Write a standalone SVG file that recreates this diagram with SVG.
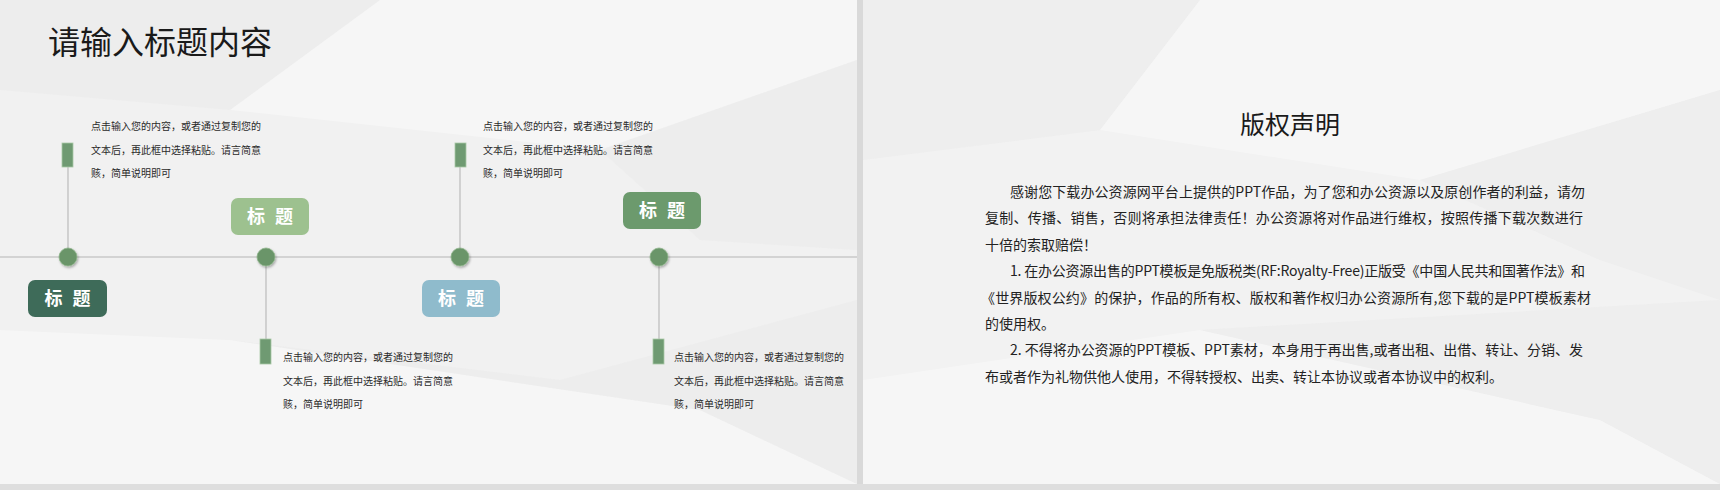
<svg xmlns="http://www.w3.org/2000/svg" width="1720" height="490" viewBox="0 0 1720 490">
<defs>
<style>
.cjk{font-family:"Noto Sans CJK SC","Noto Sans",sans-serif;}
.title{font-size:32px;fill:#1a1a1a;}
.small{font-size:10px;fill:#2a2a2a;}
.body{font-size:14px;fill:#222;}
.lbl{font-size:18px;font-weight:bold;fill:#fff;letter-spacing:3px;}
.conn{stroke:#c9c9c9;stroke-width:1.6;fill:none;}
.dot{fill:#6a9569;stroke:#8fb58c;stroke-width:0.8;filter:url(#sh);}
.mark{fill:#6f9a72;stroke:#a9c8a6;stroke-width:0.8;}
.poly{fill:#ffffff;opacity:0.35;}
.polyd{fill:#e6e6e6;opacity:0.3;}
</style>
<filter id="sh" x="-50%" y="-50%" width="200%" height="200%">
<feDropShadow dx="1" dy="1.5" stdDeviation="1.2" flood-color="#000" flood-opacity="0.3"/>
</filter>
</defs>

<!-- backgrounds -->
<rect x="0" y="0" width="1720" height="490" fill="#d6d6d6"/>
<rect x="0" y="0" width="857" height="484" fill="#f1f1f1"/>
<rect x="863" y="0" width="857" height="484" fill="#f2f2f2"/>
<g id="bg-left">
<polygon class="polyd" points="0,0 380,0 230,110 0,90"/>
<polygon class="poly" points="380,0 857,0 857,60 600,150 230,110"/>
<polygon class="polyd" points="600,150 857,60 857,250 700,240"/>
<polygon class="poly" points="0,330 230,340 700,410 857,484 0,484"/>
<polygon class="polyd" points="230,340 560,380 857,300 857,484 700,410"/>
</g>
<g id="bg-right">
<polygon class="polyd" points="863,0 1200,0 1100,130 863,160"/>
<polygon class="poly" points="1200,0 1720,0 1720,90 1420,180 1100,130"/>
<polygon class="polyd" points="1420,180 1720,90 1720,300 1600,260"/>
<polygon class="poly" points="863,380 1200,330 1600,420 1720,484 863,484"/>
<polygon class="polyd" points="1200,330 1720,300 1720,484 1600,420"/>
</g>
<rect x="857" y="0" width="6" height="490" fill="#d9d9d9"/>
<rect x="0" y="484" width="1720" height="6" fill="#dedede"/>

<text class="cjk title" x="48" y="54">请输入标题内容</text>

<g id="connectors">
<line class="conn" x1="0" y1="257" x2="857" y2="257"/>
<line class="conn" x1="68" y1="167" x2="68" y2="257"/>
<line class="conn" x1="266" y1="257" x2="266" y2="339"/>
<line class="conn" x1="460" y1="167" x2="460" y2="257"/>
<line class="conn" x1="659" y1="257" x2="659" y2="339"/>
</g>

<g id="node1">
<rect class="mark" x="62" y="143" width="11" height="24"/>
<circle class="dot" cx="68" cy="257" r="9"/>
<text class="cjk small" x="91" y="130">点击输入您的内容，或者通过复制您的</text>
<text class="cjk small" x="91" y="153.5">文本后，再此框中选择粘贴。请言简意</text>
<text class="cjk small" x="91" y="177">赅，简单说明即可</text>
<rect x="28" y="280" width="79" height="37" rx="7" fill="#3e6b59"/>
<text class="cjk lbl" x="69" y="305" text-anchor="middle">标 题</text>
</g>

<g id="node2">
<rect class="mark" x="260" y="339" width="11" height="25"/>
<circle class="dot" cx="266" cy="257" r="9"/>
<text class="cjk small" x="283" y="361">点击输入您的内容，或者通过复制您的</text>
<text class="cjk small" x="283" y="384.5">文本后，再此框中选择粘贴。请言简意</text>
<text class="cjk small" x="283" y="408">赅，简单说明即可</text>
<rect x="231" y="198" width="78" height="37" rx="7" fill="#9dc18f"/>
<text class="cjk lbl" x="271.5" y="223" text-anchor="middle">标 题</text>
</g>

<g id="node3">
<rect class="mark" x="455" y="143" width="11" height="24"/>
<circle class="dot" cx="460" cy="257" r="9"/>
<text class="cjk small" x="483" y="130">点击输入您的内容，或者通过复制您的</text>
<text class="cjk small" x="483" y="153.5">文本后，再此框中选择粘贴。请言简意</text>
<text class="cjk small" x="483" y="177">赅，简单说明即可</text>
<rect x="422" y="280" width="78" height="37" rx="7" fill="#8fbbcc"/>
<text class="cjk lbl" x="462.5" y="305" text-anchor="middle">标 题</text>
</g>

<g id="node4">
<rect class="mark" x="653" y="339" width="11" height="25"/>
<circle class="dot" cx="659" cy="257" r="9"/>
<text class="cjk small" x="674" y="361">点击输入您的内容，或者通过复制您的</text>
<text class="cjk small" x="674" y="384.5">文本后，再此框中选择粘贴。请言简意</text>
<text class="cjk small" x="674" y="408">赅，简单说明即可</text>
<rect x="623" y="192" width="78" height="37" rx="7" fill="#6c9a6d"/>
<text class="cjk lbl" x="663.5" y="217" text-anchor="middle">标 题</text>
</g>

<g id="copyright">
<text class="cjk" x="1290" y="134" font-size="25" fill="#1a1a1a" text-anchor="middle">版权声明</text>
<text class="cjk body" x="1010" y="197" textLength="575" lengthAdjust="spacing">感谢您下载办公资源网平台上提供的PPT作品，为了您和办公资源以及原创作者的利益，请勿</text>
<text class="cjk body" x="985" y="223.4" textLength="598" lengthAdjust="spacing">复制、传播、销售，否则将承担法律责任！办公资源将对作品进行维权，按照传播下载次数进行</text>
<text class="cjk body" x="985" y="249.8">十倍的索取赔偿！</text>
<text class="cjk body" x="1010" y="276.2" textLength="575" lengthAdjust="spacing">1. 在办公资源出售的PPT模板是免版税类(RF:Royalty-Free)正版受《中国人民共和国著作法》和</text>
<text class="cjk body" x="981" y="302.6" textLength="610" lengthAdjust="spacing">《世界版权公约》的保护，作品的所有权、版权和著作权归办公资源所有,您下载的是PPT模板素材</text>
<text class="cjk body" x="985" y="329">的使用权。</text>
<text class="cjk body" x="1010" y="355.4" textLength="573" lengthAdjust="spacing">2. 不得将办公资源的PPT模板、PPT素材，本身用于再出售,或者出租、出借、转让、分销、发</text>
<text class="cjk body" x="985" y="381.8">布或者作为礼物供他人使用，不得转授权、出卖、转让本协议或者本协议中的权利。</text>
</g>
</svg>
